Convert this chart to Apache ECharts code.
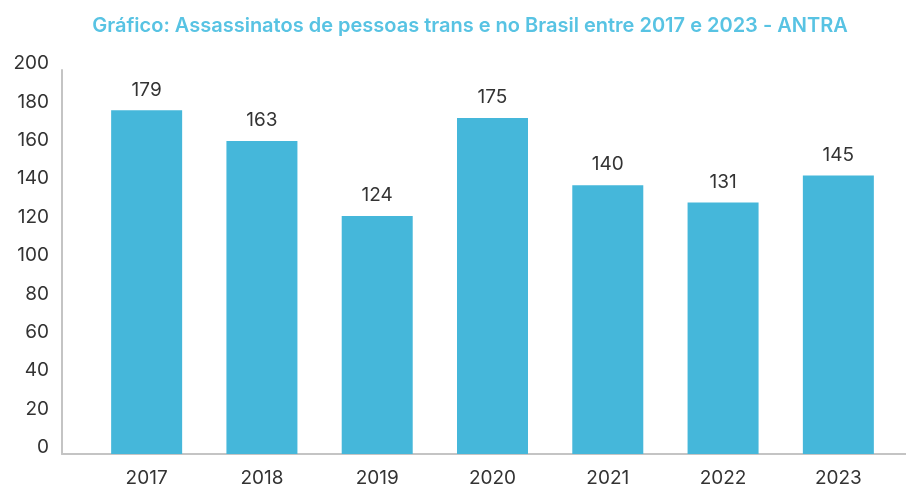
<!DOCTYPE html>
<html>
<head>
<meta charset="utf-8">
<script src="https://cdn.jsdelivr.net/npm/echarts@6/dist/echarts.min.js"></script>
<style>
	html, body { margin: 0; padding: 0; background: #fff; }
	#main { width: 906px; height: 488px; }
</style>
</head>
<body>
<div id="main"></div>
<script>
	// dados
	var anos = ['2017', '2018', '2019', '2020', '2021', '2022', '2023'];
	var assassinatos = [179, 163, 124, 175, 140, 131, 145];

	var azul = '#45B7DA';
	var cinza = '#C4C4C4';
	var texto = '#333333';
	var fonte = 'Inter';

	var myChart = echarts.init(document.getElementById('main'));

	var option = {
		animation: false,
		title: {
			text: 'Gráfico: Assassinatos de pessoas trans e no Brasil entre 2017 e 2023 - ANTRA',
			left: 465,
			textAlign: 'center',
			top: 11,
			textStyle: {
				fontFamily: fonte,
				fontSize: 20,
				fontWeight: 600,
				color: '#58C3E3'
			}
		},
		grid: [
			// area das barras
			{ left: 89, right: 10, top: 70, bottom: 34 },
			// eixos cinzas (de 62 ate a borda)
			{ left: 62, right: 0, top: 70, bottom: 34 }
		],
		xAxis: [{
			type: 'category',
			gridIndex: 0,
			data: anos,
			axisLine: { show: false },
			axisTick: { show: false },
			axisLabel: {
				margin: 15,
				fontFamily: fonte,
				fontSize: 19,
				color: texto
			}
		}, {
			type: 'value',
			gridIndex: 1,
			min: 0,
			max: 1,
			axisLine: { show: true, lineStyle: { color: cinza, width: 2 } },
			axisTick: { show: false },
			axisLabel: { show: false },
			splitLine: { show: false }
		}],
		yAxis: [{
			type: 'value',
			gridIndex: 0,
			min: 0,
			max: 200,
			interval: 20,
			show: false
		}, {
			type: 'value',
			gridIndex: 1,
			min: 0,
			max: 200,
			interval: 20,
			axisLine: { show: true, lineStyle: { color: cinza, width: 2 } },
			axisTick: { show: false },
			splitLine: { show: false },
			axisLabel: {
				margin: 13,
				fontFamily: fonte,
				fontSize: 19,
				color: texto,
				verticalAlign: 'bottom',
				lineHeight: 13
			}
		}],
		series: [{
			name: 'Assassinatos',
			type: 'bar',
			xAxisIndex: 0,
			yAxisIndex: 0,
			data: assassinatos,
			barWidth: 71,
			itemStyle: { color: azul },
			label: {
				show: true,
				position: 'top',
				distance: 11,
				fontFamily: fonte,
				fontSize: 19,
				color: texto
			}
		}]
	};

	myChart.setOption(option);
</script>
</body>
</html>
